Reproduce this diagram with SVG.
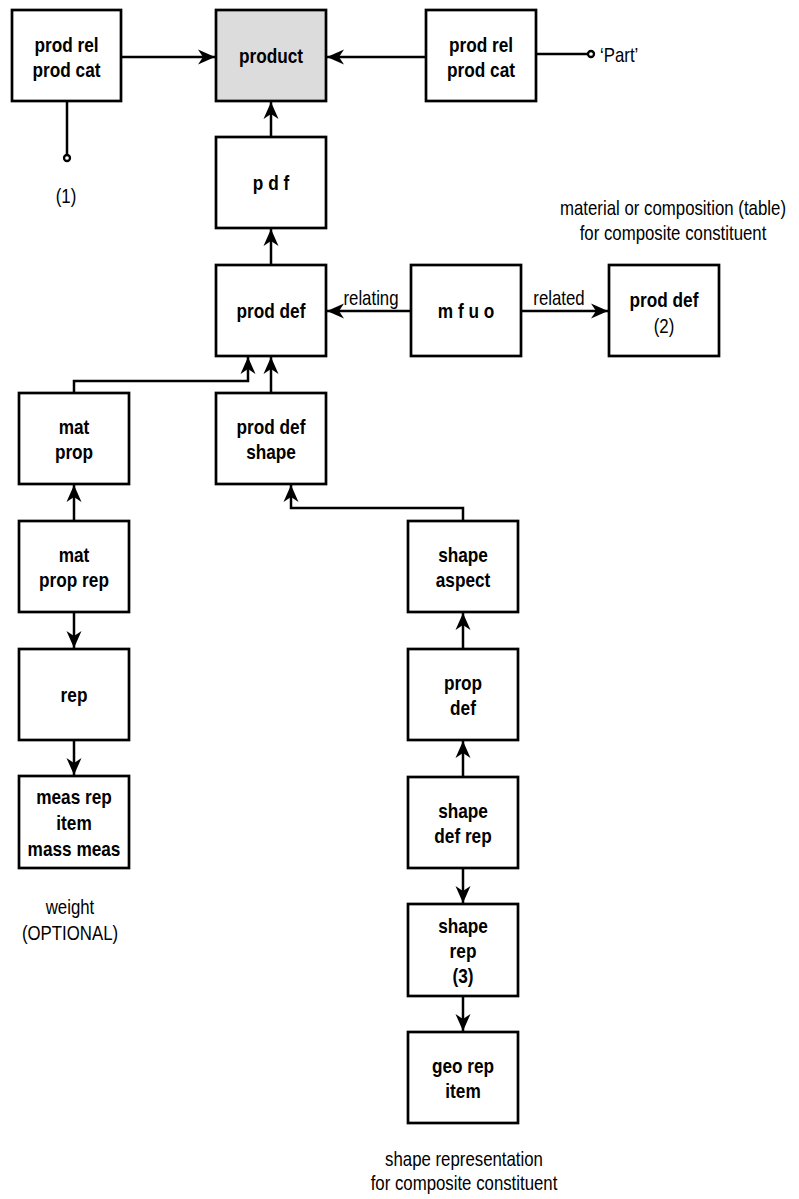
<svg xmlns="http://www.w3.org/2000/svg" width="799" height="1199" viewBox="0 0 799 1199">
<style>
.box{fill:#fff;stroke:#000;stroke-width:2.7}
.gray{fill:#dcdcdc}
.b{font-family:"Liberation Sans",Arial,sans-serif;font-size:21px;font-weight:bold;text-anchor:middle;fill:#000}
.t{font-family:"Liberation Sans",Arial,sans-serif;font-size:20.5px;text-anchor:middle;fill:#000}
.s{text-anchor:start}
.c{fill:none;stroke:#000;stroke-width:2.5}
.a{marker-end:url(#arr)}
.dot{fill:#fff;stroke:#000;stroke-width:2.3}
</style>
<defs>
<marker id="arr" markerUnits="userSpaceOnUse" markerWidth="17" markerHeight="16" viewBox="0 0 17 16" refX="17" refY="8" orient="auto">
<path d="M0,0.5 L17,8 L0,15.5 L5,8 Z" fill="#000"/>
</marker>
</defs>
<rect width="799" height="1199" fill="#fff"/>
<g id="connectors">
<path class="c a" d="M121,57 H215"/>
<path class="c a" d="M426,57 H327"/>
<path class="c" d="M536,54 H588"/>
<circle class="dot" cx="591" cy="54" r="3"/>
<path class="c" d="M67,101 V155"/>
<circle class="dot" cx="67" cy="158" r="3"/>
<path class="c a" d="M271,137 V102"/>
<path class="c a" d="M271,265 V229"/>
<path class="c a" d="M411,311 H327"/>
<text class="t" transform="translate(371 0) scale(0.82 1)" x="0" y="305">relating</text>
<path class="c a" d="M521,311 H608"/>
<text class="t" transform="translate(559 0) scale(0.82 1)" x="0" y="305">related</text>
<path class="c a" d="M74,393 V381 H248 V357"/>
<path class="c a" d="M271,393 V357"/>
<path class="c a" d="M463,521 V508 H291 V485"/>
<path class="c a" d="M74,521 V485"/>
<path class="c a" d="M74,612 V648"/>
<path class="c a" d="M74,740 V775"/>
<path class="c a" d="M463,649 V613"/>
<path class="c a" d="M463,777 V741"/>
<path class="c a" d="M463,868 V903"/>
<path class="c a" d="M463,996 V1031"/>
</g>
<g id="prodrel1"><rect class="box" x="12" y="10" width="109" height="91"/><g transform="translate(66.5 0) scale(0.82 1)"><text class="b" x="0" y="52">prod rel</text><text class="b" x="0" y="77">prod cat</text></g></g>
<g id="product"><rect class="box gray" x="216" y="10" width="110" height="91"/><g transform="translate(271 0) scale(0.82 1)"><text class="b" x="0" y="63">product</text></g></g>
<g id="prodrel2"><rect class="box" x="426" y="10" width="110" height="91"/><g transform="translate(481 0) scale(0.82 1)"><text class="b" x="0" y="52">prod rel</text><text class="b" x="0" y="77">prod cat</text></g></g>
<g id="pdf"><rect class="box" x="216" y="137" width="110" height="91"/><g transform="translate(271 0) scale(0.82 1)"><text class="b" x="0" y="190">p d f</text></g></g>
<g id="proddef"><rect class="box" x="216" y="265" width="110" height="91"/><g transform="translate(271 0) scale(0.82 1)"><text class="b" x="0" y="318">prod def</text></g></g>
<g id="mfuo"><rect class="box" x="411" y="265" width="110" height="91"/><g transform="translate(466 0) scale(0.82 1)"><text class="b" x="0" y="318">m f u o</text></g></g>
<g id="proddef2"><rect class="box" x="609" y="265" width="110" height="91"/><g transform="translate(664 0) scale(0.82 1)"><text class="b" x="0" y="307">prod def</text><text class="t" x="0" y="333">(2)</text></g></g>
<g id="matprop"><rect class="box" x="19" y="393" width="110" height="91"/><g transform="translate(74 0) scale(0.82 1)"><text class="b" x="0" y="434">mat</text><text class="b" x="0" y="459">prop</text></g></g>
<g id="proddefshape"><rect class="box" x="216" y="393" width="110" height="91"/><g transform="translate(271 0) scale(0.82 1)"><text class="b" x="0" y="434">prod def</text><text class="b" x="0" y="459">shape</text></g></g>
<g id="matproprep"><rect class="box" x="19" y="521" width="110" height="91"/><g transform="translate(74 0) scale(0.82 1)"><text class="b" x="0" y="562">mat</text><text class="b" x="0" y="587">prop rep</text></g></g>
<g id="shapeaspect"><rect class="box" x="408" y="521" width="110" height="91"/><g transform="translate(463 0) scale(0.82 1)"><text class="b" x="0" y="562">shape</text><text class="b" x="0" y="587">aspect</text></g></g>
<g id="rep"><rect class="box" x="19" y="649" width="110" height="91"/><g transform="translate(74 0) scale(0.82 1)"><text class="b" x="0" y="702">rep</text></g></g>
<g id="propdef"><rect class="box" x="408" y="649" width="110" height="91"/><g transform="translate(463 0) scale(0.82 1)"><text class="b" x="0" y="690">prop</text><text class="b" x="0" y="715">def</text></g></g>
<g id="measrep"><rect class="box" x="19" y="776" width="110" height="92"/><g transform="translate(74 0) scale(0.82 1)"><text class="b" x="0" y="804">meas rep</text><text class="b" x="0" y="830">item</text><text class="b" x="0" y="856">mass meas</text></g></g>
<g id="shapedefrep"><rect class="box" x="408" y="777" width="110" height="91"/><g transform="translate(463 0) scale(0.82 1)"><text class="b" x="0" y="818">shape</text><text class="b" x="0" y="843">def rep</text></g></g>
<g id="shaperep"><rect class="box" x="408" y="904" width="110" height="92"/><g transform="translate(463 0) scale(0.82 1)"><text class="b" x="0" y="933">shape</text><text class="b" x="0" y="958">rep</text><text class="b" x="0" y="983">(3)</text></g></g>
<g id="georep"><rect class="box" x="408" y="1032" width="110" height="91"/><g transform="translate(463 0) scale(0.82 1)"><text class="b" x="0" y="1073">geo rep</text><text class="b" x="0" y="1098">item</text></g></g>
<g id="labels">
<text class="t" transform="translate(66 0) scale(0.82 1)" x="0" y="203">(1)</text>
<text class="t s" transform="translate(600 0) scale(0.82 1)" x="0" y="62">‘Part’</text>
<g transform="translate(673 0) scale(0.82 1)"><text class="t" x="0" y="215">material or composition (table)</text><text class="t" x="0" y="240">for composite constituent</text></g>
<g transform="translate(70 0) scale(0.82 1)"><text class="t" x="0" y="914">weight</text><text class="t" x="0" y="940">(OPTIONAL)</text></g>
<g transform="translate(464 0) scale(0.82 1)"><text class="t" x="0" y="1166">shape representation</text><text class="t" x="0" y="1190">for composite constituent</text></g>
</g>
</svg>
